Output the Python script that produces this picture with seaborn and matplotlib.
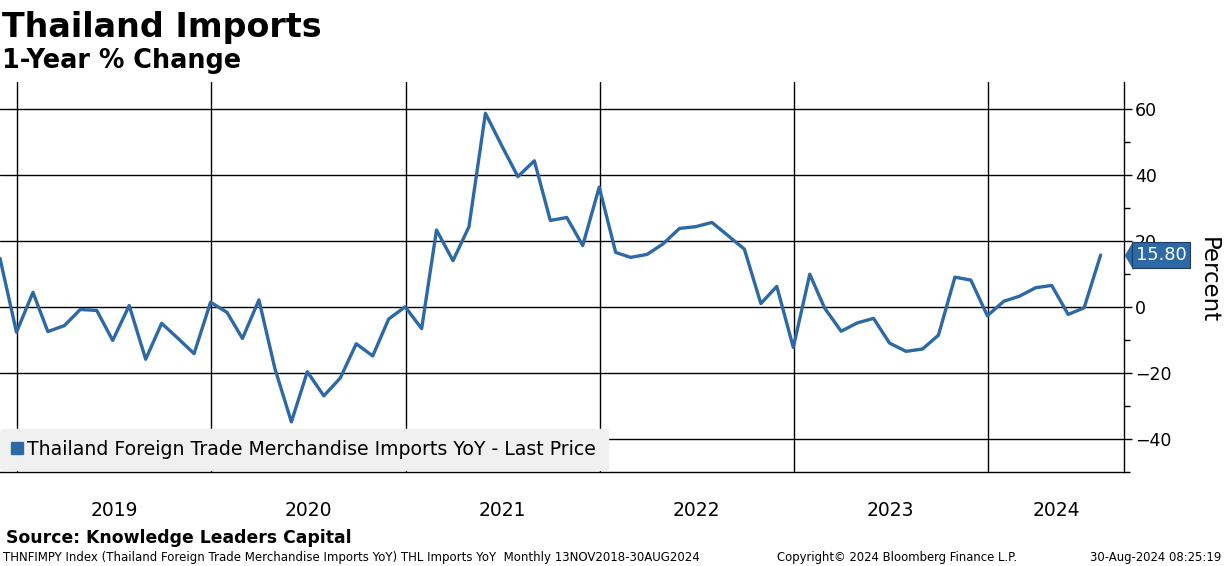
import seaborn as sns
import matplotlib.pyplot as plt
import matplotlib.dates as mdates
import matplotlib.transforms as mtransforms
from matplotlib.lines import Line2D
import pandas as pd

# Monthly YoY % change, Nov 2018 .. Jul 2024
vals_2018 = [14.8, -7.6]
vals_2019 = [4.5, -7.4, -5.6, -0.7, -1.0, -10.1, 0.5, -15.8, -4.9, -9.5, -14.1, 1.5]
vals_2020 = [-1.6, -9.5, 2.2, -18.6, -34.8, -19.6, -26.9, -21.5, -11.1, -14.8, -3.6, 0.1]
vals_2021 = [-6.5, 23.4, 14.1, 24.4, 58.8, 49.2, 39.6, 44.4, 26.3, 27.2, 18.7, 36.4]
vals_2022 = [16.6, 15.1, 16.0, 19.2, 23.9, 24.4, 25.7, 21.6, 17.6, 1.1, 6.3, -12.2]
vals_2023 = [10.0, -0.3, -7.3, -4.8, -3.4, -10.9, -13.4, -12.7, -8.5, 9.1, 8.2, -2.6]
vals_2024 = [1.8, 3.3, 5.9, 6.6, -2.2, -0.2, 15.8]
years = [2019, 2020, 2021, 2022, 2023, 2024]
yticks = [-40, -20, 0, 20, 40, 60]

title = 'Thailand Imports'
subtitle = '1-Year % Change'
series_name = 'Thailand Foreign Trade Merchandise Imports YoY - Last Price'
source = 'Source: Knowledge Leaders Capital'
footer_left = ('THNFIMPY Index (Thailand Foreign Trade Merchandise Imports YoY) '
               'THL Imports YoY  Monthly 13NOV2018-30AUG2024')
footer_mid = 'Copyright\u00a9 2024 Bloomberg Finance L.P.'
footer_right = '30-Aug-2024 08:25:19'

values = vals_2018 + vals_2019 + vals_2020 + vals_2021 + vals_2022 + vals_2023 + vals_2024
dates = pd.date_range('2018-11-30', periods=len(values), freq='ME')
df = pd.DataFrame({'date': dates, 'value': values})

BLUE = '#2d6aa5'

sns.set_style('white')
plt.rcParams['font.family'] = ['DejaVu Sans']
plt.rcParams['text.color'] = 'black'
plt.rcParams['xtick.labelcolor'] = 'black'
plt.rcParams['ytick.labelcolor'] = 'black'

fig = plt.figure(figsize=(12.24, 5.66), dpi=100)
ax = fig.add_axes([0, 1 - 472 / 566, 1124 / 1224, (472 - 82) / 566])

sns.lineplot(data=df, x='date', y='value', ax=ax, color=BLUE, linewidth=2.4, legend=False)

x_left = pd.Timestamp('2018-11-30')
x_right = pd.Timestamp('2024-09-13')
ax.set_xlim(x_left, x_right)
ax.set_ylim(-50, 68.3)

# grid
ax.set_yticks(yticks)
ax.set_yticks(range(-50, 70, 10), minor=True)
ax.xaxis.set_major_locator(mdates.YearLocator())
ax.xaxis.set_minor_locator(mdates.MonthLocator(bymonth=[4, 7, 10]))
ax.grid(True, which='major', color='black', linewidth=1)
ax.set_axisbelow(True)

ax.yaxis.tick_right()
ax.tick_params(axis='y', which='major', direction='out', length=6, width=1,
               color='black', labelsize=12.5, pad=2)
ax.tick_params(axis='y', which='minor', direction='out', length=4, width=1, color='black')
ax.tick_params(axis='x', which='major', direction='out', length=36, width=1,
               color='#888888', labelbottom=False)
ax.tick_params(axis='x', which='minor', direction='out', length=4, width=1, color='black')

for side in ['left', 'top']:
    ax.spines[side].set_visible(False)
for side in ['right', 'bottom']:
    ax.spines[side].set_color('black')
    ax.spines[side].set_linewidth(1)

ax.set_xlabel('')
ax.set_ylabel('')

# year labels centred on the visible part of each year
trans = mtransforms.blended_transform_factory(ax.transData, ax.transAxes)
for yr in years:
    start = pd.Timestamp(f'{yr}-01-01')
    end = min(pd.Timestamp(f'{yr + 1}-01-01'), x_right)
    mid = start + (end - start) / 2
    ax.text(mdates.date2num(mid), -0.1, str(yr), transform=trans,
            ha='center', va='center', fontsize=13.5)

# right-side label and last value tag
ax.text(1.0747, 0.492, 'Percent', transform=ax.transAxes, rotation=270,
        ha='center', va='center', fontsize=16.5)

last = values[-1]
tag_trans = mtransforms.blended_transform_factory(ax.transAxes, ax.transData)
ax.plot([1.0045], [last], transform=tag_trans, clip_on=False, linestyle='none',
        marker=[(-0.3, 0), (0.3, 1), (0.3, -1), (-0.3, 0)], markersize=19,
        color=BLUE, markeredgecolor=BLUE, zorder=5)
ax.text(1.0105, last, f'{last:.2f}', transform=tag_trans, ha='left', va='center',
        fontsize=12.8, color='white', zorder=6,
        bbox=dict(boxstyle='square,pad=0.22', facecolor=BLUE, edgecolor='#1d3c60', linewidth=0.8))

# legend
handle = Line2D([], [], marker='s', linestyle='none', color=BLUE, markersize=9)
leg = ax.legend([handle], [series_name], loc='lower left', bbox_to_anchor=(0, 0.004),
                borderaxespad=0, fontsize=13.6, frameon=True, fancybox=True,
                handlelength=0.6, handletextpad=0.25, borderpad=0.6)
frame = leg.get_frame()
frame.set_facecolor('#f0f0f0')
frame.set_edgecolor('#f0f0f0')
frame.set_alpha(1)

# titles and footers
fig.text(2 / 1224, 1 - 37 / 566, title, fontsize=24, fontweight='bold', va='baseline')
fig.text(2 / 1224, 1 - 68 / 566, subtitle, fontsize=18.4, fontweight='bold', va='baseline')
fig.text(6 / 1224, 1 - 543 / 566, source, fontsize=12.4, fontweight='bold', va='baseline')
fig.text(3 / 1224, 1 - 561 / 566, footer_left, fontsize=8.5, va='baseline')
fig.text(897 / 1224, 1 - 561 / 566, footer_mid, fontsize=8.4, va='baseline', ha='center')
fig.text(1221 / 1224, 1 - 561 / 566, footer_right, fontsize=8.4, va='baseline', ha='right')

fig.savefig('out.png', dpi=100)
plt.close(fig)
